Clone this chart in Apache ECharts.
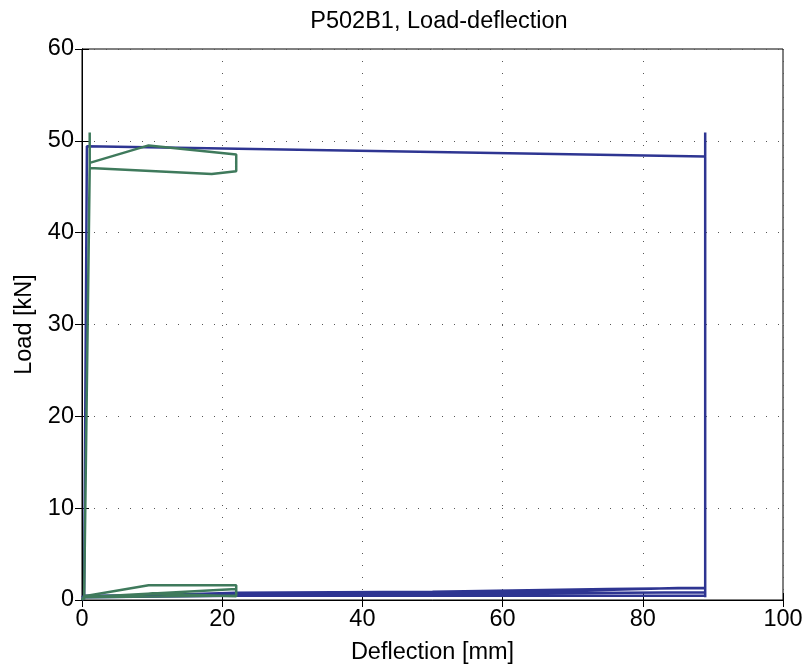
<!DOCTYPE html>
<html>
<head>
<meta charset="utf-8">
<script src="https://cdn.jsdelivr.net/npm/echarts@6/dist/echarts.min.js"></script>
<style>html,body{margin:0;padding:0;background:#fff}#c{width:806px;height:670px}</style>
</head>
<body>
<div id="c"></div>
<script>
const titleText = 'P502B1, Load-deflection';
const xName = 'Deflection [mm]';
const yName = 'Load [kN]';
const xTicks = [0, 20, 40, 60, 80, 100];
const yTicks = [0, 10, 20, 30, 40, 50, 60];

const blueX = [0, 0.3, 22, 50, 75, 88.9, 88.9, 88.9, 60, 22, 0, 0.3, 30, 60, 85, 88.9, 88.9, 60, 22, 0.3, 0.7, 88.9, 88.9, 88.9];
const blueY = [0, 0.3, 0.8, 0.9, 1.2, 1.3, 0.84, 0.84, 0.7, 0.6, 0.3, 0.45, 0.6, 0.8, 1.3, 1.3, 0.47, 0.5, 0.45, 0.3, 49.4, 48.3, 50.9, 0.3];

const greenX = [0, 0.3, 9.5, 22, 22, 22, 10, 0.2, 0.3, 22, 22, 0.3, 1.1, 18.5, 22, 22, 9.5, 1.1, 1.1, 1.1, 0.3];
const greenY = [0, 0.4, 1.6, 1.6, 1.8, 0.4, 0.7, 0.3, 0.5, 1.2, 0.5, 0.3, 47.05, 46.4, 46.7, 48.5, 49.5, 47.6, 50.9, 47.5, 0];

const blueData = blueX.map((x, i) => [x, blueY[i]]);
const greenData = greenX.map((x, i) => [x, greenY[i]]);

const font = 'Liberation Sans, Arial, sans-serif';
const fs = 23.5;
const chart = echarts.init(document.getElementById('c'));
const baseAxisLine = {show: true, lineStyle: {color: '#000', width: 1}};
const tickStyle = {show: true, inside: true, length: 7, lineStyle: {color: '#000'}};
const gridLine = {show: true, lineStyle: {type: [1, 11], color: '#555', width: 1}};
chart.setOption({
  animation: false,
  title: {text: titleText, left: 434, top: 5, textAlign: 'center',
    textStyle: {fontFamily: font, fontSize: fs, fontWeight: 'normal', color: '#000'}},
  grid: {left: 82, top: 49, right: 23, bottom: 68, show: true, borderColor: '#000', borderWidth: 1},
  xAxis: [{
    type: 'value', min: 0, max: 100, interval: 20,
    name: xName, nameLocation: 'middle', nameGap: 41,
    nameTextStyle: {fontFamily: font, fontSize: fs, color: '#000'},
    axisLine: baseAxisLine, axisTick: tickStyle,
    axisLabel: {fontFamily: font, fontSize: fs, color: '#000', margin: 8},
    splitLine: gridLine
  }, {
    type: 'value', min: 0, max: 100, interval: 20, position: 'top',
    axisLine: baseAxisLine, axisTick: tickStyle,
    axisLabel: {show: false}, splitLine: {show: false}
  }],
  yAxis: [{
    type: 'value', min: 0, max: 60, interval: 10,
    name: yName, nameLocation: 'middle', nameGap: 43,
    nameTextStyle: {fontFamily: font, fontSize: fs, color: '#000'},
    axisLine: baseAxisLine, axisTick: tickStyle,
    axisLabel: {fontFamily: font, fontSize: fs, color: '#000', margin: 8},
    splitLine: gridLine
  }, {
    type: 'value', min: 0, max: 60, interval: 10, position: 'right',
    axisLine: baseAxisLine, axisTick: tickStyle,
    axisLabel: {show: false}, splitLine: {show: false}
  }],
  series: [{
    type: 'line', data: blueData, showSymbol: false, symbol: 'none',
    lineStyle: {color: '#2e3592', width: 2.5}, z: 2
  }, {
    type: 'line', data: greenData, showSymbol: false, symbol: 'none',
    lineStyle: {color: '#3f7a5c', width: 2.5}, z: 3
  }]
});
</script>
</body>
</html>
